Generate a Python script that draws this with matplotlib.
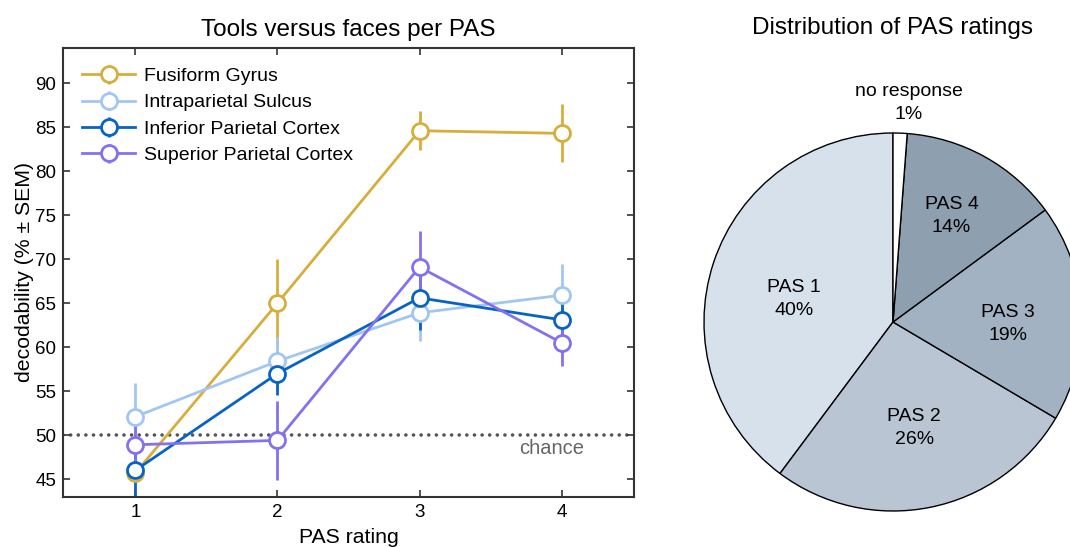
import matplotlib.pyplot as plt
import numpy as np

plt.rcParams['font.family'] = ['Liberation Sans', 'DejaVu Sans']

# line chart data
pas = [1, 2, 3, 4]
regions = ['Fusiform Gyrus', 'Intraparietal Sulcus', 'Inferior Parietal Cortex', 'Superior Parietal Cortex']
fusiform = [45.7, 65.0, 84.6, 84.3]
fusiform_sem = [0.8, 5.0, 2.2, 3.3]
intrapar = [52.1, 58.4, 63.9, 65.9]
intrapar_sem = [3.8, 2.7, 3.2, 3.6]
infpar = [46.0, 57.0, 65.6, 63.1]
infpar_sem = [3.5, 2.4, 3.7, 2.2]
suppar = [48.9, 49.4, 69.1, 60.5]
suppar_sem = [2.5, 4.5, 4.1, 2.6]
chance = 50

# pie data
pie_labels = ['PAS 1', 'PAS 2', 'PAS 3', 'PAS 4', 'no response']
pie_pct = [39.8, 26.7, 18.6, 13.7, 1.2]
pie_text = ['40%', '26%', '19%', '14%', '1%']

colors = ['#d6ae3c', '#a2c6f2', '#0763c4', '#8272f0']
pie_colors = ['#d7e1eb', '#b9c5d2', '#a3b2c3', '#8e9faf', '#ffffff']
label_r = [0.55, 0.57, 0.61, 0.64, 1.16]
label_dx = [0, 0, 0, 0, 0.04]
label_dy = [-0.05, 0, -0.04, 0, 0]

fig = plt.figure(figsize=(10.7, 5.47), dpi=100)

ax = fig.add_axes([0.0589, 0.092, 0.5336, 0.8202])
series = [(fusiform, fusiform_sem), (intrapar, intrapar_sem), (infpar, infpar_sem), (suppar, suppar_sem)]
for (vals, sem), c, name in zip(series, colors, regions):
    ax.errorbar(pas, vals, yerr=sem, color=c, lw=2, elinewidth=2, capsize=0,
                marker='o', ms=11.5, mfc='white', mec=c, mew=2, label=name)

ax.axhline(chance, color='#555555', lw=2.6, ls=(0, (0.01, 2.1)), dash_capstyle='round', zorder=0.5)
ax.text(3.93, chance - 0.5, 'chance', color='#666666', fontsize=14.5, ha='center', va='top')

ax.set_xlim(0.49, 4.51)
ax.set_ylim(43, 94)
ax.set_xticks(pas)
ax.set_yticks(np.arange(45, 91, 5))
ax.tick_params(direction='in', top=True, right=True, labelsize=13.5, length=5, width=1.2,
               color='#333333', pad=5)
for s in ax.spines.values():
    s.set_linewidth(1.5)
    s.set_color('#333333')
ax.set_xlabel('PAS rating', fontsize=15.3, labelpad=5)
ax.set_ylabel('decodability (% ± SEM)', fontsize=15.3, labelpad=1)
ax.set_title('Tools versus faces per PAS', fontsize=17.5, pad=9)

leg = ax.legend(loc='upper left', frameon=False, fontsize=14, handlelength=2.7,
                borderaxespad=0.6, labelspacing=0.45, handletextpad=0.45)

# pie
pax = fig.add_axes([704 / 1070, 1 - 511 / 547, 378 / 1070, 378 / 547])
wedges, _ = pax.pie(pie_pct, colors=pie_colors, startangle=90, counterclock=True,
                    wedgeprops=dict(edgecolor='black', linewidth=1))
for w, lab, txt, r, dx, dy in zip(wedges, pie_labels, pie_text, label_r, label_dx, label_dy):
    ang = np.deg2rad((w.theta1 + w.theta2) / 2)
    pax.text(r * np.cos(ang) + dx, r * np.sin(ang) + dy, lab + '\n' + txt, ha='center', va='center',
             fontsize=14, linespacing=1.45)
pax.set_xlim(-1, 1)
pax.set_ylim(-1, 1)
pax.set_clip_on(False)
fig.text(893 / 1070, 1 - 28 / 547, 'Distribution of PAS ratings', fontsize=17.5, ha='center', va='center')

fig.savefig('out.png', dpi=100)
